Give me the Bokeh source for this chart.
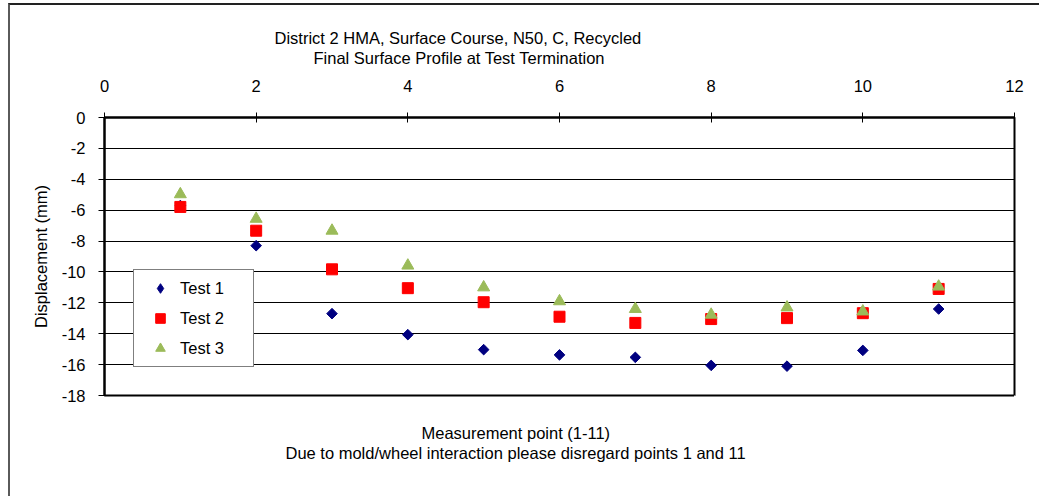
import math
from bokeh.plotting import figure
from bokeh.models import (Range1d, FixedTicker, Legend, LegendItem, Title,
                          LinearAxis, PrintfTickFormatter)
from bokeh.embed import file_html
from bokeh.resources import INLINE

# ---- data ----
points = [1, 2, 3, 4, 5, 6, 7, 8, 9, 10, 11]
test1 = [-5.7, -8.3, -12.7, -14.06, -15.03, -15.37, -15.53, -16.05, -16.1, -15.08, -12.4]
test2 = [-5.79, -7.33, -9.83, -11.05, -11.96, -12.9, -13.3, -13.05, -12.99, -12.67, -11.1]
test3 = [-4.97, -6.56, -7.33, -9.59, -11.0, -11.9, -12.4, -12.77, -12.3, -12.56, -10.95]
x_ticks = [0, 2, 4, 6, 8, 10, 12]
y_ticks = [0, -2, -4, -6, -8, -10, -12, -14, -16, -18]
title_lines = ["District 2 HMA, Surface Course, N50, C, Recycled",
               "Final Surface Profile at  Test Termination"]
xlabel_lines = ["Measurement point (1-11)",
                "Due to mold/wheel interaction please disregard points 1 and 11"]
ylabel = "Displacement (mm)"
series_names = ["Test 1", "Test 2", "Test 3"]

FONT = "Liberation Sans"
FS = "16.5px"

p = figure(
    width=1031, height=493,
    min_border_left=94, min_border_top=112, min_border_right=27, min_border_bottom=103,
    x_range=Range1d(0, 12), y_range=Range1d(-18, 0),
    x_axis_location="above", title=None,
    output_backend="svg", toolbar_location=None,
    background_fill_color="white", border_fill_color="white",
)
p.margin = (3, 0, 0, 8)
p.styles = {"border-left": "2px solid #5a5a5a", "border-top": "2px solid #222222"}

p.outline_line_color = "black"
p.outline_line_width = 2
p.xgrid.visible = False
p.ygrid.grid_line_color = "black"
p.ygrid.grid_line_width = 1
p.ygrid.ticker = FixedTicker(ticks=y_ticks)

xa = p.xaxis[0]
xa.ticker = FixedTicker(ticks=x_ticks)
xa.formatter = PrintfTickFormatter(format="%d")
xa.axis_line_color = "black"
xa.axis_line_width = 2
xa.major_tick_in = 5
xa.major_tick_out = 5
xa.minor_tick_line_color = None
xa.major_label_text_font = FONT
xa.major_label_text_font_size = FS
xa.major_label_text_color = "black"
xa.major_label_standoff = 21

ya = p.yaxis[0]
ya.ticker = FixedTicker(ticks=y_ticks)
ya.formatter = PrintfTickFormatter(format="%d")
ya.axis_line_color = "black"
ya.axis_line_width = 2
ya.major_tick_in = 0
ya.major_tick_out = 6
ya.minor_tick_line_color = None
ya.major_label_text_font = FONT
ya.major_label_text_font_size = FS
ya.major_label_text_color = "black"
ya.major_label_standoff = 13
ya.axis_label = ylabel
ya.axis_label_text_font = FONT
ya.axis_label_text_font_size = FS
ya.axis_label_text_font_style = "normal"
ya.axis_label_text_color = "black"
ya.axis_label_standoff = 9


def spacer_axis(height):
    # blank axis used only to reserve vertical space in a side panel
    return LinearAxis(ticker=FixedTicker(ticks=[12]), axis_line_color=None,
                      major_tick_line_color="white", minor_tick_line_color=None,
                      major_tick_in=0, major_tick_out=height, minor_tick_in=0,
                      minor_tick_out=0, major_label_standoff=0,
                      major_label_overrides={12: ""},
                      major_label_text_font_size="1px",
                      major_label_text_color="white")


# above: x-axis, spacer, title line 2, title line 1
p.add_layout(spacer_axis(7), "above")
p.add_layout(Title(text=title_lines[1], align="left", offset=209, standoff=2,
                   vertical_align="top", text_font=FONT, text_font_size=FS,
                   text_font_style="normal", text_color="black"), "above")
p.add_layout(Title(text=title_lines[0], align="left", offset=170, standoff=2,
                   vertical_align="bottom", text_font=FONT, text_font_size=FS,
                   text_font_style="normal", text_color="black"), "above")

# below: spacer, x label line 1, line 2
p.add_layout(spacer_axis(28), "below")
p.add_layout(Title(text=xlabel_lines[0], align="left", offset=317, standoff=0,
                   vertical_align="top", text_font=FONT, text_font_size=FS,
                   text_font_style="normal", text_color="black"), "below")
p.add_layout(Title(text=xlabel_lines[1], align="left", offset=181, standoff=0,
                   vertical_align="top", text_font=FONT, text_font_size=FS,
                   text_font_style="normal", text_color="black"), "below")

r1 = p.scatter(points, test1, marker="square", size=7.5, angle=math.pi / 4,
               fill_color="#000080", line_color="#000080")
r2 = p.scatter(points, test2, marker="square", size=11,
               fill_color="#FF0000", line_color="#FF0000")
r3 = p.scatter(points, test3, marker="triangle", size=12,
               fill_color="#9BBB59", line_color="#9BBB59")
# legend key for Test 1 drawn as a diamond (rotation is not applied in legends);
# its single point is NaN, so nothing is plotted.
k1 = p.scatter([float("nan")], [float("nan")], marker="diamond", size=10,
               fill_color="#000080", line_color="#000080")

legend = Legend(
    items=[LegendItem(label=series_names[0], renderers=[k1]),
           LegendItem(label=series_names[1], renderers=[r2]),
           LegendItem(label=series_names[2], renderers=[r3])],
    location=(29, 28),
    border_line_color="black", border_line_width=1.5,
    background_fill_color="white", background_fill_alpha=1,
    padding=6, spacing=6, glyph_width=40, glyph_height=24,
    label_standoff=0, label_width=67,
    label_text_font=FONT, label_text_font_size=FS, label_text_color="black",
    margin=0,
)
p.add_layout(legend, "center")

open("out.html", "w").write(file_html(p, INLINE))
